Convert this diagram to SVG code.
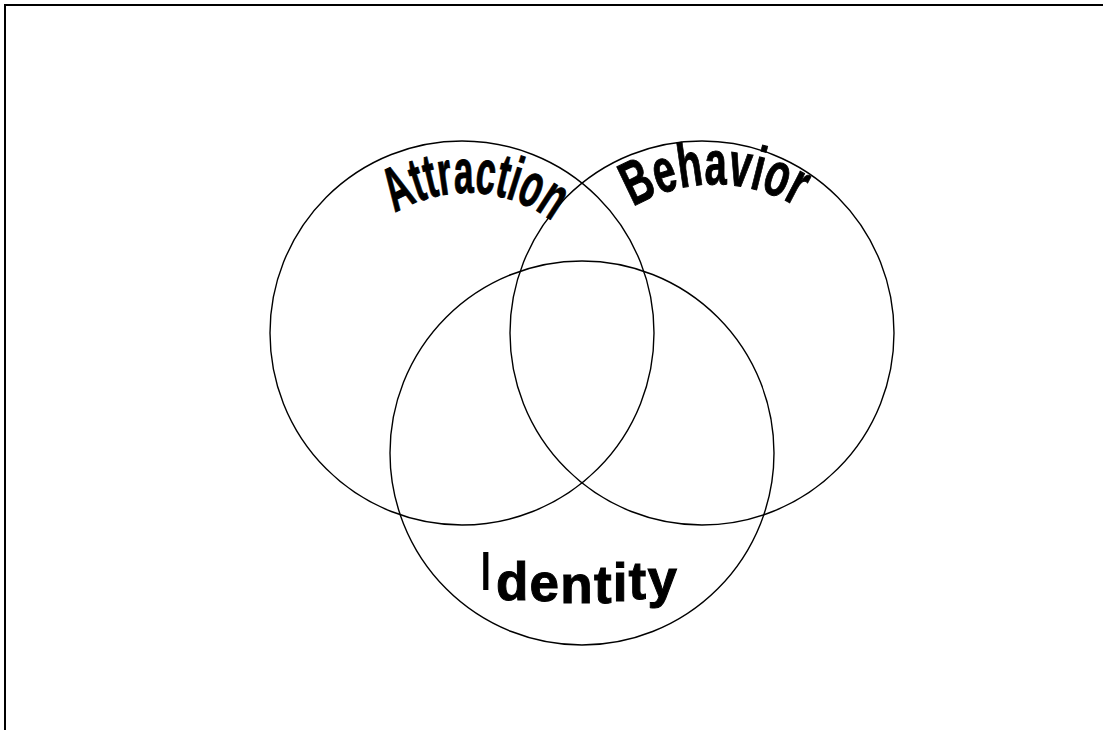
<svg xmlns="http://www.w3.org/2000/svg" width="1103" height="730" viewBox="0 0 1103 730">
  <style>
    .circ { fill: none; stroke: #000; stroke-width: 1.4; }
    .frame { stroke: #000; stroke-width: 2; fill: none; }
    .lbl { font-family: "Liberation Sans", Arial, sans-serif; font-weight: 700; fill: #000; stroke: #000; stroke-width: 1; }
  </style>
  <defs>
    <path id="arcA" d="M 395 213 A 140 140 0 0 1 553 222"/>
    <path id="arcB" d="M 633 207 A 160 160 0 0 1 797 207"/>
  </defs>
  <rect width="1103" height="730" fill="#fff"/>
  <g id="frame">
    <line class="frame" x1="4" y1="5" x2="1103" y2="5"/>
    <line class="frame" x1="5" y1="4" x2="5" y2="730"/>
  </g>
  <g id="connectors"></g>
  <g id="attraction">
    <circle class="circ" cx="462" cy="333" r="192"/>
    <text class="lbl" font-size="62" textLength="167" lengthAdjust="spacingAndGlyphs"><textPath href="#arcA" textLength="167" lengthAdjust="spacingAndGlyphs">Attraction</textPath></text>
  </g>
  <g id="behavior">
    <circle class="circ" cx="702" cy="333" r="192"/>
    <text class="lbl" font-size="62" textLength="171" lengthAdjust="spacingAndGlyphs"><textPath href="#arcB" textLength="171" lengthAdjust="spacingAndGlyphs">Behavior</textPath></text>
  </g>
  <g id="identity">
    <circle class="circ" cx="582" cy="453" r="192"/>
    <text class="lbl" font-size="53"><tspan x="478" y="590" font-weight="400" font-size="56" stroke-width="0">I</tspan><tspan x="496 529.6 560.3 593.9 612.7 628.6 647.4" y="600 601 603 603 601 599 597">dentity</tspan></text>
  </g>
</svg>
